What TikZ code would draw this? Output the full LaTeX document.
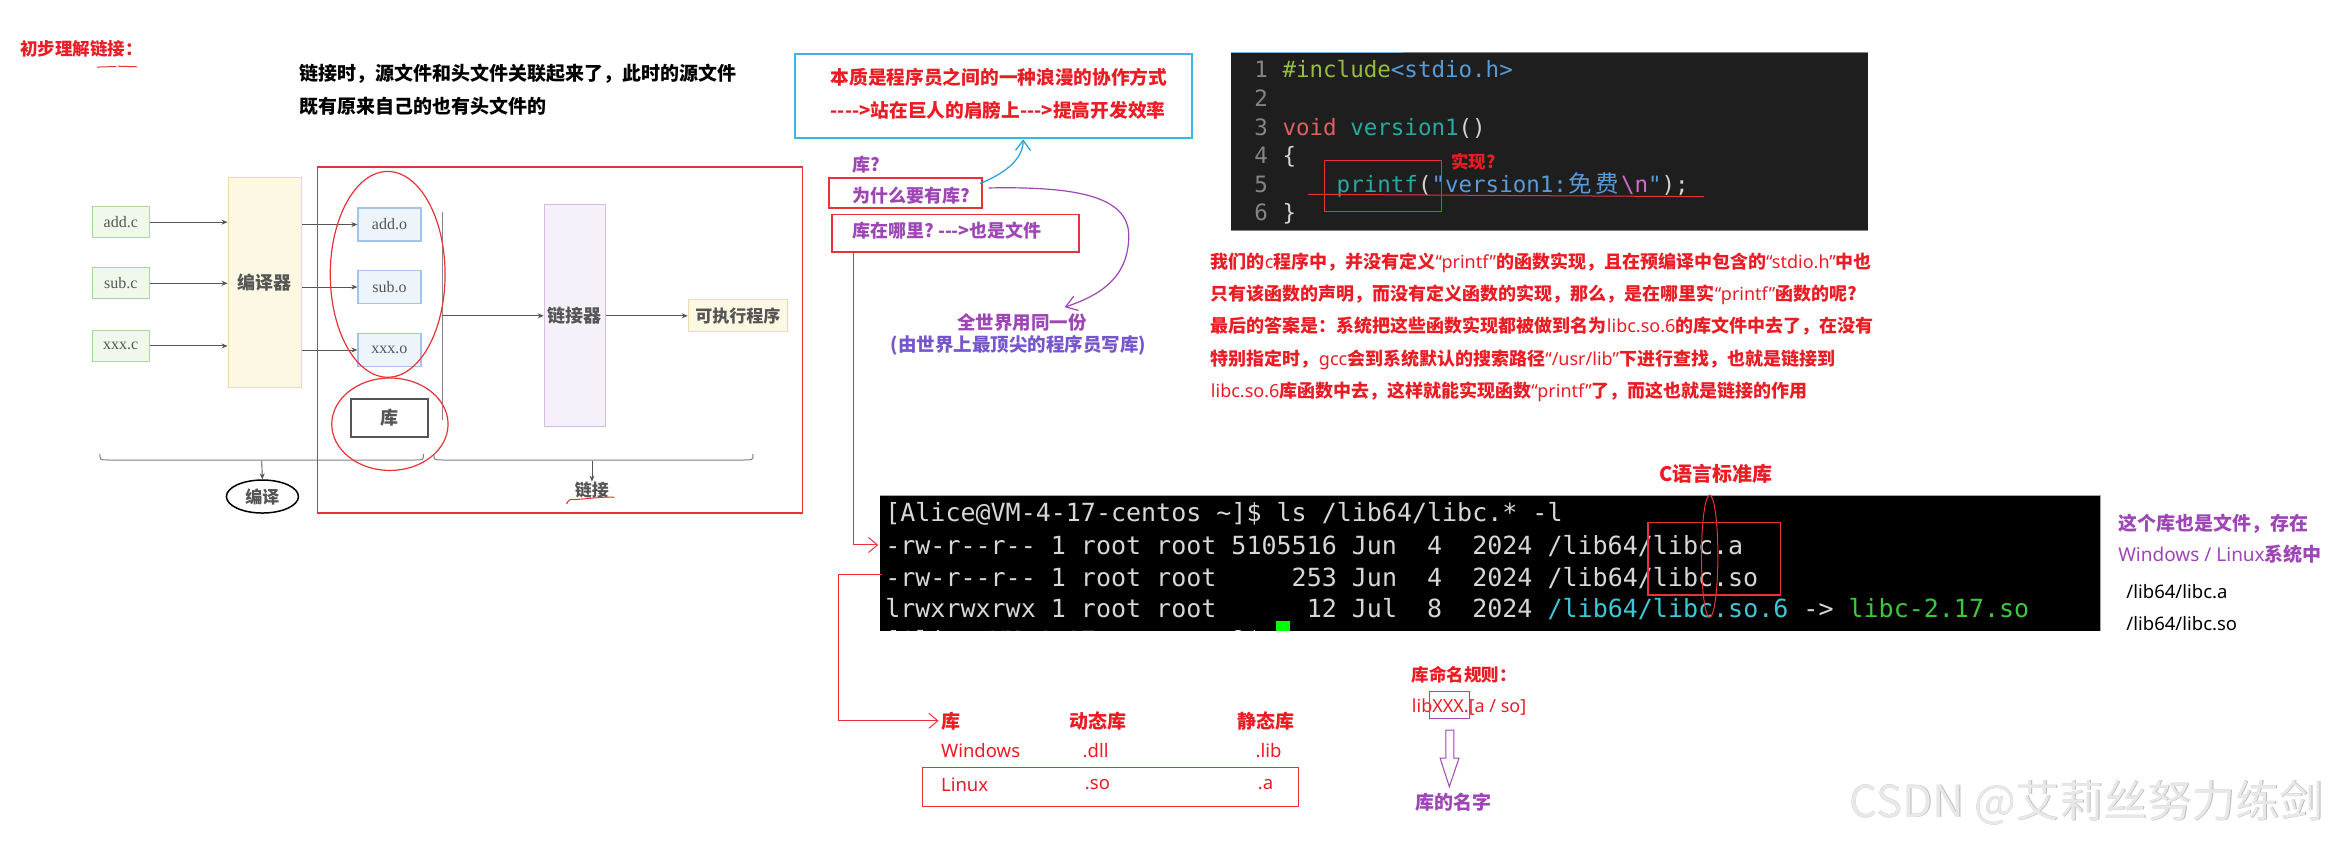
\documentclass[tikz,border=0pt]{standalone}
\usepackage{fontspec}
\setmainfont{Noto Sans CJK SC}
\setmonofont{DejaVu Sans Mono}
\newfontfamily\lat{Noto Sans}
\newfontfamily\dserif{Liberation Serif}
\usetikzlibrary{arrows.meta,shapes.geometric,calc}
\newcommand\fsz[1]{\fontsize{#1}{#1}\selectfont}
\newcommand\hy{-\kern0pt}
\definecolor{myred}{RGB}{236,28,36}
\definecolor{boxred}{RGB}{232,50,58}
\definecolor{mypurple}{RGB}{158,70,182}
\definecolor{myviolet}{RGB}{118,86,205}
\definecolor{lblue}{RGB}{64,180,232}
\definecolor{arrblue}{RGB}{30,160,225}
\definecolor{codebg}{RGB}{30,30,30}
\definecolor{cinc}{RGB}{150,190,60}
\definecolor{cblue}{RGB}{86,156,214}
\definecolor{cvoid}{RGB}{224,96,96}
\definecolor{cteal}{RGB}{40,170,160}
\definecolor{cgray}{RGB}{212,212,212}
\definecolor{cnum}{RGB}{133,133,133}
\definecolor{cstr}{RGB}{90,155,215}
\definecolor{cpink}{RGB}{210,105,200}
\definecolor{tgray}{RGB}{215,215,215}
\definecolor{tcyan}{RGB}{60,200,215}
\definecolor{tgreen}{RGB}{60,200,60}
\definecolor{dgray}{RGB}{85,85,85}
\definecolor{gline}{RGB}{170,214,160}
\definecolor{gfill}{RGB}{240,248,236}
\definecolor{oline}{RGB}{165,195,232}
\definecolor{ofill}{RGB}{238,244,252}
\definecolor{yline}{RGB}{238,222,165}
\definecolor{yfill}{RGB}{253,248,228}
\definecolor{pline}{RGB}{210,190,228}
\definecolor{pfill}{RGB}{245,240,250}
\tikzset{
  redt/.style={text=myred, font=\fsz{18}\bfseries, anchor=west, inner sep=0pt},
  blkt/.style={text=black, font=\fsz{19}\bfseries, anchor=west, inner sep=0pt},
  purt/.style={text=mypurple, font=\fsz{18}\bfseries, anchor=west, inner sep=0pt},
  latr/.style={text=myred, font=\lat\fsz{18.5}, anchor=west, inner sep=0pt},
  diagbox/.style={line width=1.2pt, inner sep=0pt, text=dgray},
  gbox/.style={diagbox, draw=gline, fill=gfill, minimum width=57pt, minimum height=31pt, font=\dserif\fsz{16}},
  obox/.style={diagbox, draw=oline, fill=ofill, minimum width=63pt, minimum height=33pt, font=\dserif\fsz{16}},
  tallbox/.style={diagbox, font=\fsz{18}\bfseries},
  darr/.style={draw=dgray, line width=0.9pt, -{Stealth[length=6pt,width=5pt]}},
  redarr/.style={draw=boxred, line width=1pt, -{Straight Barb[length=9pt,width=15pt]}},
  codel/.style={anchor=base west, inner sep=0pt, font=\ttfamily\fsz{22.5}, text=cgray},
  numl/.style={anchor=base east, inner sep=0pt, font=\ttfamily\fsz{22.5}, text=cnum},
  terml/.style={anchor=base west, inner sep=0pt, font=\ttfamily\fsz{25}, text=tgray},
  redbox/.style={draw=boxred, line width=1.2pt},
}
\begin{document}
\begin{tikzpicture}[x=1.491pt,y=-1.491pt]
\useasboundingbox[fill=white] (0,0) rectangle (1568,563.4);

% ---------- title and note
\node[redt, font=\fsz{17.5}\bfseries] (title) at (13.5,32.5) {初步理解链接：};
\draw[boxred, line width=1pt] (65,45) -- (78,44.6) (79,44.4) -- (92,44.8);
\node[blkt] (note1) at (201,49.5) {链接时，源文件和头文件关联起来了，此时的源文件};
\node[blkt] (note2) at (201,71.5) {既有原来自己的也有头文件的};

% ---------- diagram
\node[gbox] (addc) at (81,149) {add.c};
\node[gbox] (subc) at (81,190) {sub.c};
\node[gbox] (xxxc) at (81,232) {xxx.c};
\node[tallbox, draw=yline, fill=yfill, minimum width=73pt, minimum height=210pt] (comp) at (177.5,189.5) {编译器};
\node[obox] (addo) at (261.2,150.6) {add.o};
\node[obox] (subo) at (261.2,192.5) {sub.o};
\node[obox] (xxxo) at (261.2,234.7) {xxx.o};
\node[diagbox, draw=dgray, line width=1.6pt, fill=white, minimum width=77pt, minimum height=38pt, font=\fsz{18}\bfseries] (kubox) at (261.3,280.3) {库};
\node[tallbox, draw=pline, fill=pfill, minimum width=61pt, minimum height=222pt] (linker) at (385.5,211.8) {链接器};
\node[tallbox, draw=yline, fill=yfill, minimum width=99pt, minimum height=32pt, font=\fsz{17}\bfseries] (exe) at (494.8,211.8) {可执行程序};

\draw[darr] (addc.east) -- (comp.west |- addc.east);
\draw[darr] (subc.east) -- (comp.west |- subc.east);
\draw[darr] (xxxc.east) -- (comp.west |- xxxc.east);
\draw[darr] (comp.east |- addo.west) -- (addo.west);
\draw[darr] (comp.east |- subo.west) -- (subo.west);
\draw[darr] (comp.east |- xxxo.west) -- (xxxo.west);
\coordinate (vtop) at (296.5,142);
\coordinate (vbot) at (296.5,282);
\coordinate (vmid) at (296.5,211.8);
\draw[dgray!70, line width=0.8pt] (vtop) -- (vbot);
\draw[darr] (vmid) -- (linker.west);
\draw[darr] (linker.east) -- (exe.west);

% braces
\draw[gray, line width=1pt] (67,304.5) .. controls (67,308.5) .. (73,308.5) -- (278,308.5) .. controls (284,308.5) .. (284,304.5);
\draw[gray, line width=1pt] (291,304.5) .. controls (291,308.5) .. (297,308.5) -- (499,308.5) .. controls (505,308.5) .. (505,304.5);
\coordinate (b1) at (175.5,309);
\coordinate (b2) at (397,309);
\node[ellipse, draw=black, line width=1.5pt, minimum width=72pt, minimum height=33pt, inner sep=0pt, font=\fsz{17}\bfseries, text=dgray] (bianyi) at (176,333) {编译};
\node[inner sep=0pt, font=\fsz{17}\bfseries, text=dgray] (lianjie) at (397,328.6) {链接};
\draw[darr] (b1) -- (bianyi.north);
\draw[darr] (b2) -- (lianjie.north);
\draw[boxred, line width=1pt] (380,338) .. controls (381,335) and (383,334.5) .. (386,335) .. controls (395,334.5) and (404,333) .. (412,333.5);

% red frames of the diagram
\draw[redbox] (213,112) rectangle (538,344);
\draw[redbox] (260,184) ellipse [x radius=38.5, y radius=69];
\draw[redbox] (261.5,284.5) ellipse [x radius=39, y radius=31];

% ---------- blue box
\node[draw=lblue, line width=1.5pt, minimum width=397pt, minimum height=84pt, inner sep=0pt] (bbox) at (666.25,64.25) {};
\node[redt, font=\fsz{18.7}\bfseries] (b1t) at (557,51.6) {本质是程序员之间的一种浪漫的协作方式};
\node[redt, font=\fsz{18.7}\bfseries] (b2t) at (557,73.8) {\hy\hy\hy\hy>站在巨人的肩膀上\hy\hy\hy>提高开发效率};

% ---------- questions
\node[purt] (qku) at (571.5,110.7) {库?};
\node[redbox, minimum width=153pt, minimum height=30pt, inner sep=0pt] (q1) at (607.3,129.45) {};
\node[purt] (q1t) at (571.5,131.5) {为什么要有库?};
\node[redbox, minimum width=247pt, minimum height=37.3pt, inner sep=0pt] (q2) at (640.85,156.5) {};
\node[purt] (q2t) at (571.5,154.3) {库在哪里?~\hy\hy\hy>也是文件};

\coordinate (bas) at ($(q1.north east)+(-1.6,4)$);
\coordinate (bae) at (686.2,93.5);
\draw[arrblue, line width=1.2pt, -{Straight Barb[length=10pt,width=15pt]}] (bas) .. controls (672,117) and (686,108) .. (bae);

\coordinate (pas) at ($(q1.east)+(4,-3.4)$);
\coordinate (pae) at (714,206);
\draw[mypurple, line width=1.2pt, -{Straight Barb[length=11pt,width=15pt]}] (pas) .. controls (720,125) and (757,131) .. (757,158) .. controls (757,186) and (738,198) .. (pae);

\node[text=mypurple, font=\fsz{18.5}\bfseries, inner sep=0pt] (world1) at (685.5,216) {全世界用同一份};
\node[text=myviolet, font=\fsz{18.5}\bfseries, inner sep=0pt] (world2) at (683,231.4) {(由世界上最顶尖的程序员写库)};

% ---------- code box
\fill[codebg] (825.6,35.3) rectangle (1253,154.7);
\draw[gray, line width=1pt] (825.6,35.3) -- (1253,35.3);
\draw[gray, line width=1pt] (825.6,154.7) -- (1253,154.7);
\draw[cblue!80!white, line width=1.5pt] (825.6,35.3) -- (941,35.3);
\foreach \i/\b in {1/51.8,2/71.3,3/90.7,4/109.9,5/129.3,6/147.9}
  \node[numl] (n\i) at (850.5,\b) {\i};
\node[codel] (c1) at (860,51.8) {{\color{cinc}\#include}{\color{cblue}<stdio.h>}};
\node[codel] (c3) at (860,90.7) {{\color{cvoid}void} {\color{cteal}version1}()};
\node[codel] (c4) at (860,109.9) {\{};
\node[codel] (c5) at (860,129.3) {\phantom{xxxx}{\color{cteal}printf}({\color{cstr}"version1:{\normalfont\fsz{23.5}\makebox[27pt]{免}\makebox[27pt]{费}}}{\color{cpink}\textbackslash n}{\color{cstr}"});};
\node[codel] (c6) at (860,147.9) {\}};
\draw[redbox, line width=1pt] (888.4,107.8) rectangle (967,142);
\draw[boxred, line width=1pt] (877.2,130.3) -- (1142.9,131.9);
\node[redt, font=\fsz{17.5}\bfseries] (shixian) at (973,108.4) {实现?};

% ---------- red paragraph
\node[redt] (p1) at (812,176) {我们的{\lat\mdseries c}程序中，并没有定义{\lat\mdseries “printf”}的函数实现，且在预编译中包含的{\lat\mdseries “stdio.h”}中也};
\node[redt] (p2) at (812,197.5) {只有该函数的声明，而没有定义函数的实现，那么，是在哪里实{\lat\mdseries “printf”}函数的呢?};
\node[redt] (p3) at (812,219) {最后的答案是：系统把这些函数实现都被做到名为{\lat\mdseries libc.so.6}的库文件中去了，在没有};
\node[redt] (p4) at (812,241) {特别指定时，{\lat\mdseries gcc}会到系统默认的搜索路径{\lat\mdseries “/usr/lib”}下进行查找，也就是链接到};
\node[redt] (p5) at (812,263) {{\lat\mdseries libc.so.6}库函数中去，这样就能实现函数{\lat\mdseries “printf”}了，而这也就是链接的作用};

% ---------- terminal
\node[redt, font=\fsz{20}\bfseries] (cstd) at (1112.5,317.5) {C语言标准库};
\fill[black] (590,332) rectangle (1408.5,423);
\draw[gray!70, line width=1pt] (590,332) -- (1408.5,332) -- (1408.5,423);
\node[terml] (t1) at (593.6,349.5) {[Alice@VM-4-17-centos \textasciitilde]\$ ls /lib64/libc.* -l};
\node[terml] (t2) at (593.6,371.6) {-rw-r--r-- 1 root root 5105516 Jun~~4~~2024 /lib64/libc.a};
\node[terml] (t3) at (593.6,393.1) {-rw-r--r-- 1 root root~~~~~253 Jun~~4~~2024 /lib64/libc.so};
\node[terml] (t4) at (593.6,413.9) {lrwxrwxrwx 1 root root~~~~~~12 Jul~~8~~2024 {\color{tcyan}/lib64/libc.so.6} -> {\color{tgreen}libc-2.17.so}};
\begin{scope}
  \clip (590,332) rectangle (1408.5,423);
  \node[terml] (t5) at (593.6,435.6) {[Alice@VM-4-17-centos \textasciitilde]\$};
  \fill[green] (856,416.5) rectangle (865,423);
\end{scope}
\draw[redbox] (1105.2,350.5) rectangle (1194,399);
\draw[boxred, line width=1pt] (1146.6,373) ellipse [x radius=5.5, y radius=41];

% right notes
\node[purt, font=\fsz{19}\bfseries] (s1) at (1420.5,351) {这个库也是文件，存在};
\node[purt, font=\fsz{19}\bfseries] (s2) at (1420.5,372) {{\lat\mdseries Windows / Linux}系统中};
\node[anchor=west, inner sep=0pt, font=\lat\fsz{18.5}] (s3) at (1426,396.8) {/lib64/libc.a};
\node[anchor=west, inner sep=0pt, font=\lat\fsz{18.5}] (s4) at (1426,418.5) {/lib64/libc.so};

% ---------- red connectors
\coordinate (r2l) at (589,365.5);
\draw[redarr] ($(q2.south west)+(14.8,0)$) |- (r2l);
\coordinate (r3l) at (591.5,385);
\node[redt, font=\fsz{19}\bfseries] (tku) at (631,483.4) {库};
\draw[redarr] (r3l) -- (562.5,385) |- ($(tku.west)+(-1.5,0)$);

% ---------- table
\node[redt, font=\fsz{19}\bfseries] (tdyn) at (717,483.4) {动态库};
\node[redt, font=\fsz{19}\bfseries] (tsta) at (829.6,483.4) {静态库};
\node[latr] (twin) at (631,503.5) {Windows};
\node[latr] (tdll) at (726,503.5) {.dll};
\node[latr] (tlib) at (842,503.5) {.lib};
\node[redbox, minimum width=376pt, minimum height=38.8pt, inner sep=0pt] (linbox) at (744.75,528) {};
\node[latr] (tlin) at (631,526) {Linux};
\node[latr] (tso) at (727.5,526) {.so};
\node[latr] (ta) at (843.5,526) {.a};

% ---------- naming rule
\node[redt, font=\fsz{17.5}\bfseries] (rule) at (946.8,452.7) {库命名规则：};
\node[latr, font=\lat\fsz{18}] (rulef) at (946.8,474) {libXXX.[a / so]};
\draw[mypurple, line width=1pt] (958.5,464) rectangle (985.8,482);
\draw[mypurple, line width=1pt] (969.6,489.6) -- (975,489.6) -- (975,508.4) -- (978.5,508.4) -- (972,527.6) -- (965.8,508.4) -- (969.6,508.4) -- cycle;
\node[purt, font=\fsz{19}\bfseries] (mingzi) at (949,537.7) {库的名字};

% ---------- watermark
\node[anchor=west, inner sep=0pt, font=\fsz{44}, text=gray!55] (wms) at (1240.5,538.5) {CSDN @艾莉丝努力练剑};
\node[anchor=west, inner sep=0pt, font=\fsz{44}, text=gray!18] (wm) at (1240,538) {CSDN @艾莉丝努力练剑};
\end{tikzpicture}
\end{document}
